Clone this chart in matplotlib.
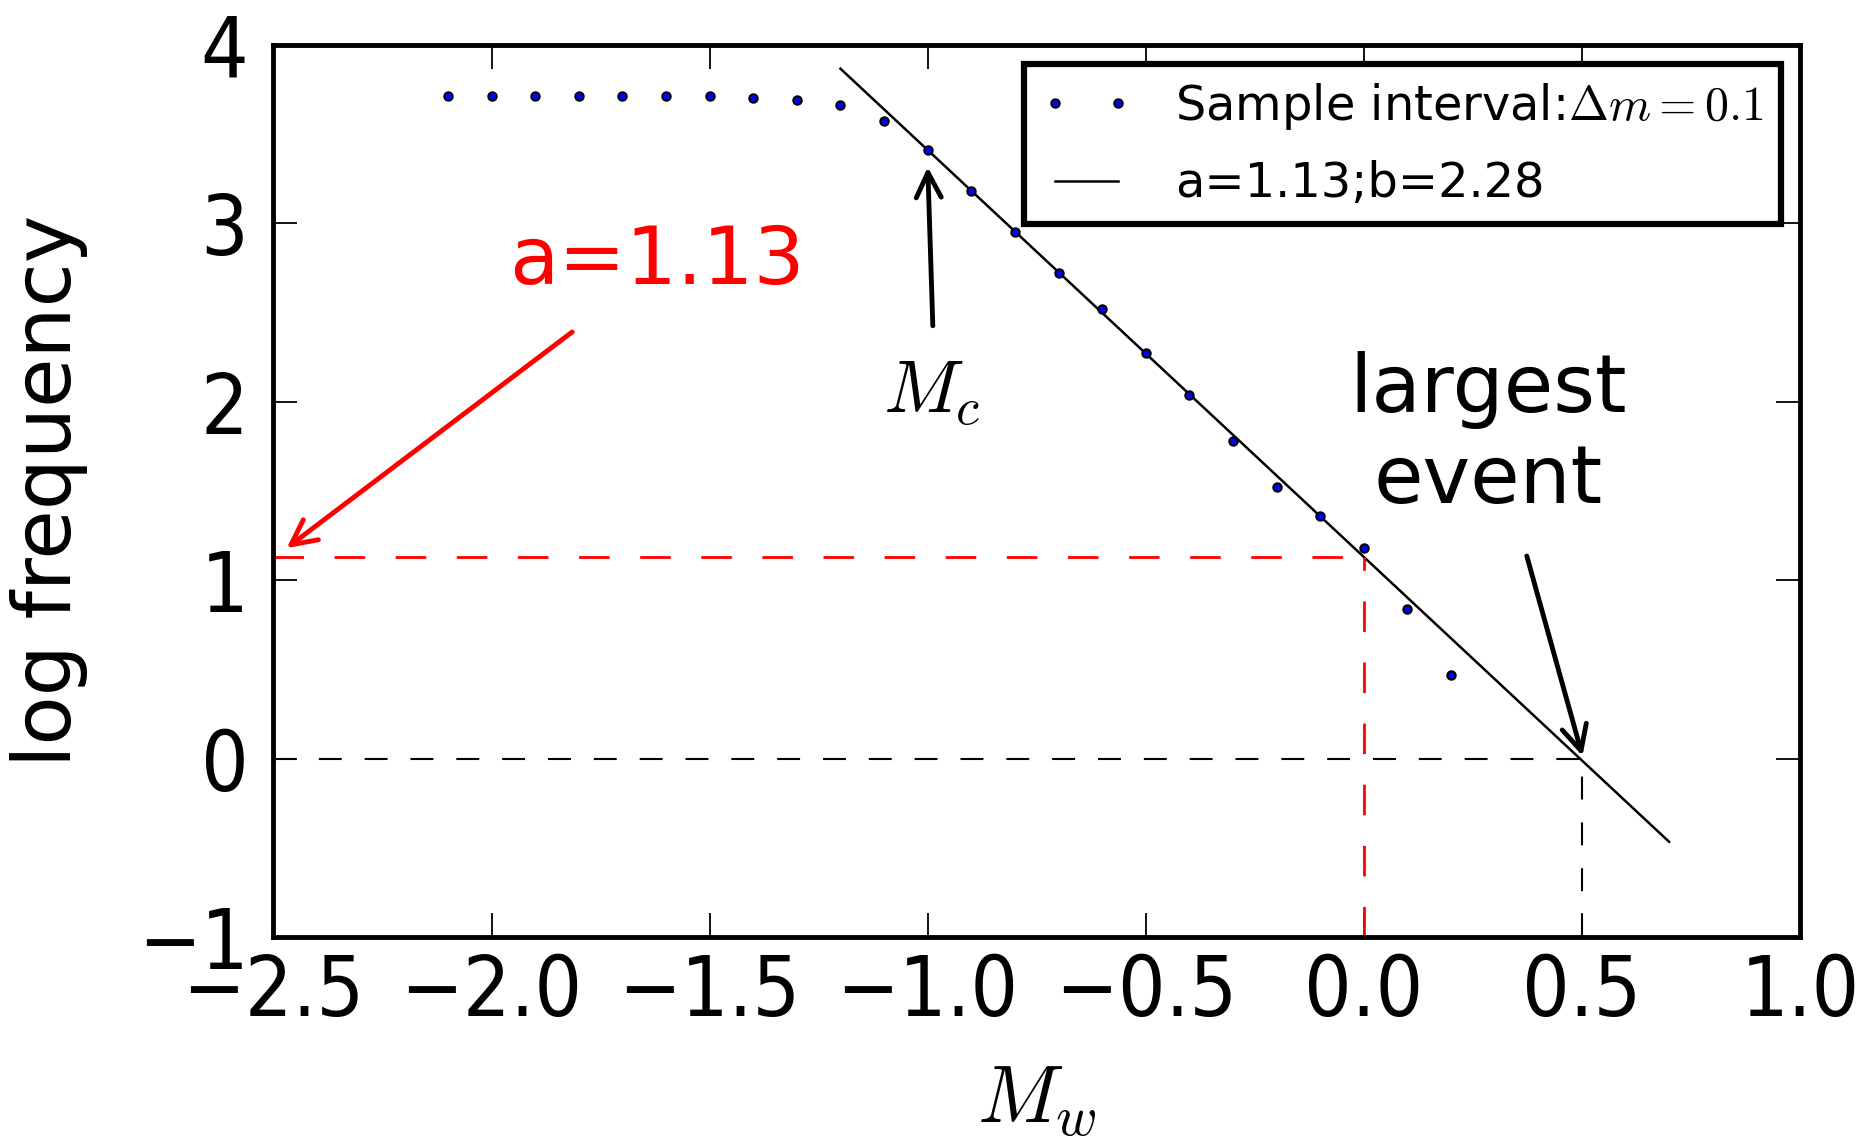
import numpy as np
import matplotlib
matplotlib.use("Agg")
import matplotlib.pyplot as plt

# Data.
mag = [-2.1, -2.0, -1.9, -1.8, -1.7, -1.6, -1.5, -1.4, -1.3, -1.2, -1.1, -1.0,
       -0.9, -0.8, -0.7, -0.6, -0.5, -0.4, -0.3, -0.2, -0.1, 0.0, 0.1, 0.2]
log_freq = [3.71, 3.71, 3.71, 3.71, 3.71, 3.71, 3.71, 3.70, 3.69, 3.66, 3.57, 3.41,
            3.18, 2.95, 2.72, 2.52, 2.27, 2.04, 1.78, 1.52, 1.36, 1.18, 0.84, 0.47]
a_val = 1.13
b_val = 2.28
fit_range = [-1.2, 0.7]
mc = -1.0
largest = 0.5
xticks = [-2.5, -2.0, -1.5, -1.0, -0.5, 0.0, 0.5, 1.0]
yticks = [-1, 0, 1, 2, 3, 4]

plt.rcParams['mathtext.fontset'] = 'cm'
plt.rcParams['font.family'] = 'DejaVu Sans'

fig = plt.figure(figsize=(18.73, 11.47), dpi=100)
ax = fig.add_axes([0.146, 0.183, 0.815, 0.778])

# Sample points and G-R fit line.
ax.plot(mag, log_freq, 'o', ms=6, mfc='blue', mec='black', mew=1.5,
        label=r'Sample interval:$\Delta m = 0.1$', zorder=3)
xf = np.array(fit_range)
ax.plot(xf, a_val - b_val * xf, '-', color='black', lw=1.8,
        label='a=%.2f;b=%.2f' % (a_val, b_val))

# Dashed guide lines.
dash = (0, (11, 11))
ax.plot([-2.5, 0.0], [a_val, a_val], color='red', lw=2, linestyle=dash)
ax.plot([0.0, 0.0], [-1, a_val], color='red', lw=2, linestyle=dash)
ax.plot([-2.5, largest], [0, 0], color='black', lw=1.5, linestyle=dash)
ax.plot([largest, largest], [-1, 0], color='black', lw=1.5, linestyle=dash)

# Annotations.
arrow_k = dict(arrowstyle='->', lw=3.5, color='black', mutation_scale=45)
ax.annotate('', xy=(mc, 3.33), xytext=(-0.988, 2.41), arrowprops=arrow_k)
ax.text(-0.99, 2.05, r'$M_c$', fontsize=54, ha='center', va='center')

arrow_r = dict(arrowstyle='->', lw=3.5, color='red', mutation_scale=45)
ax.annotate('', xy=(-2.475, 1.17), xytext=(-1.81, 2.40), arrowprops=arrow_r)
ax.text(-1.62, 2.78, 'a=1.13', fontsize=58, color='red', ha='center', va='center')

ax.annotate('', xy=(0.503, 0.0), xytext=(0.372, 1.15), arrowprops=arrow_k)
ax.text(0.285, 1.81, 'largest\nevent', fontsize=58, ha='center', va='center',
        linespacing=1.2)

ax.set_xlim(-2.5, 1.0)
ax.set_ylim(-1, 4)
ax.set_xticks(xticks)
ax.set_yticks(yticks)
ax.set_xticklabels([('%.1f' % v).replace('-', '\u2212') for v in xticks],
                   fontstretch='condensed')
ax.set_yticklabels([('%d' % v).replace('-', '\u2212') for v in yticks],
                   fontstretch='condensed')
ax.tick_params(direction='in', length=17, width=1.3, top=True, right=True,
               labelsize=60)
ax.tick_params(axis='x', pad=11)
ax.tick_params(axis='y', pad=18)
for s in ax.spines.values():
    s.set_linewidth(3.5)

ax.set_xlabel(r'$M_w$', fontsize=58, labelpad=20)
ax.set_ylabel('log frequency', fontsize=58, labelpad=36)

leg = ax.legend(loc='upper right', numpoints=2, fontsize=34.5, borderaxespad=0.4,
                fancybox=False, framealpha=1, handlelength=1.9,
                handletextpad=0.9, borderpad=0.35, labelspacing=0.6)
leg.get_frame().set_linewidth(4.5)
leg.get_frame().set_edgecolor('black')

fig.savefig('out.png', dpi=100)
